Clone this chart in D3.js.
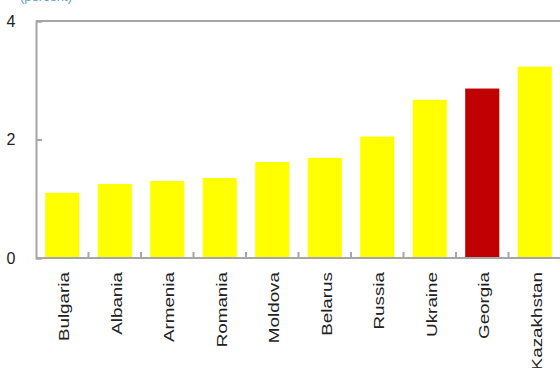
<!DOCTYPE html>
<html><head><meta charset="utf-8">
<script src="https://cdn.jsdelivr.net/npm/d3@7"></script>
<style>body{margin:0;background:#fff;}svg{display:block;}</style>
</head><body>
<svg id="c" width="560" height="368"></svg>
<script>
const categories = ["Bulgaria","Albania","Armenia","Romania","Moldova","Belarus","Russia","Ukraine","Georgia","Kazakhstan"];
const values = [1.10, 1.25, 1.30, 1.35, 1.62, 1.69, 2.05, 2.67, 2.86, 3.23];
const highlight = ["Georgia"];
const yTicks = [0, 2, 4];

const svg = d3.select("#c");
const m = {left: 36, right: 561, top: 21, bottom: 258};
const x = d3.scaleBand().domain(categories).range([m.left, m.right]).paddingInner(0.35).paddingOuter(0.175);
const xb = d3.scaleBand().domain(categories).range([m.left, m.right]);
const y = d3.scaleLinear().domain([0, 4]).range([m.bottom, m.top]);
const axisCol = "#a6a6a6";

// partially visible title
svg.append("text").attr("x", 20).attr("y", 1).attr("fill", "#5b9bd5")
  .attr("font-family", "Liberation Sans, Arial, sans-serif").attr("font-size", 13)
  .text("(percent)");

// bars
svg.selectAll("rect.bar").data(categories).join("rect").attr("class","bar")
  .attr("x", d => x(d)).attr("width", x.bandwidth())
  .attr("y", (d,i) => y(values[i])).attr("height", (d,i) => y(0) - y(values[i]))
  .attr("fill", d => highlight.includes(d) ? "#c00000" : "#ffff00");

// frame: top border
svg.append("line").attr("x1", m.left).attr("x2", m.right).attr("y1", m.top).attr("y2", m.top)
  .attr("stroke", axisCol).attr("stroke-width", 2);

// y axis
const ya = svg.append("g").attr("transform", `translate(${m.left},0)`)
  .call(d3.axisLeft(y).tickValues(yTicks).tickFormat(d3.format("d")).tickSize(-6).tickPadding(20));
ya.select(".domain").attr("stroke", axisCol).attr("stroke-width", 2);
ya.selectAll(".tick line").attr("stroke", axisCol).attr("stroke-width", 2);
ya.selectAll(".tick text").attr("font-family", "Liberation Sans, Arial, sans-serif")
  .attr("font-size", 16).attr("fill", "#222").attr("text-anchor", "middle").attr("x", -25);

// x axis baseline
svg.append("line").attr("x1", m.left).attr("x2", m.right).attr("y1", m.bottom).attr("y2", m.bottom)
  .attr("stroke", axisCol).attr("stroke-width", 2);
// category boundary ticks (inside)
svg.selectAll("line.xt").data(categories.slice(1)).join("line").attr("class","xt")
  .attr("x1", d => xb(d)).attr("x2", d => xb(d))
  .attr("y1", m.bottom).attr("y2", m.bottom - 6)
  .attr("stroke", axisCol).attr("stroke-width", 2);

// labels
svg.selectAll("text.lab").data(categories).join("text").attr("class","lab")
  .attr("transform", d => `translate(${x(d) + x.bandwidth()/2 + 7},${m.bottom + 14}) rotate(-90) scale(1.3,1)`)
  .attr("text-anchor", "end")
  .attr("font-family", "Liberation Sans, Arial, sans-serif").attr("font-size", 14.5)
  .attr("fill", "#222").text(d => d);
</script>
</body></html>
